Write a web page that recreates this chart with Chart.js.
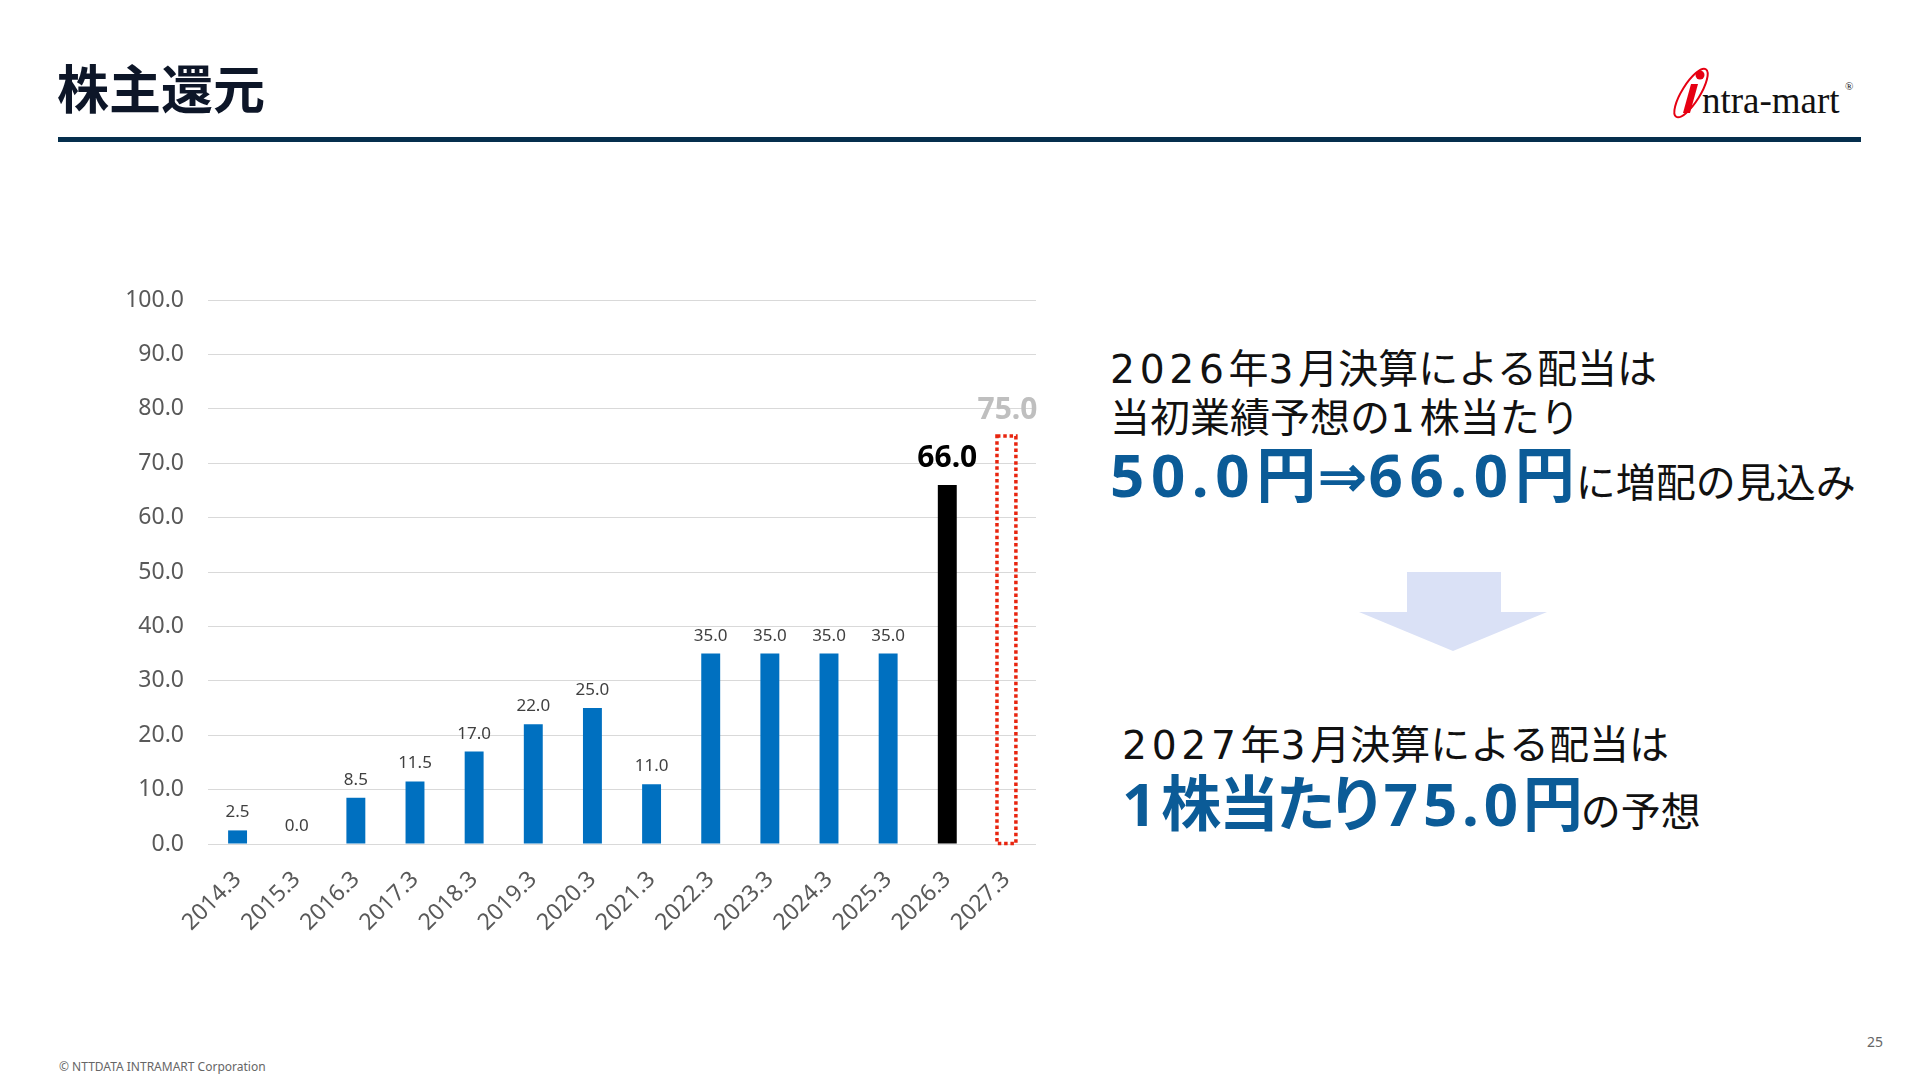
<!DOCTYPE html>
<html lang="ja">
<head>
<meta charset="utf-8">
<title>株主還元</title>
<script src="https://cdn.jsdelivr.net/npm/chart.js@4/dist/chart.umd.min.js"></script>
<style>
  html, body { margin: 0; padding: 0; background: #fff; }
  body { width: 1920px; height: 1080px; position: relative; overflow: hidden; font-family: "Noto Sans CJK JP", "Noto Sans", sans-serif; }
  .title { position: absolute; left: 57px; top: 61px; font-size: 52px; font-weight: 700; line-height: 1; color: #0d1628; }
  .rule { position: absolute; left: 58px; top: 137px; width: 1803px; height: 5px; background: #052f4d; }
  #chartBox { position: absolute; left: 100px; top: 260px; width: 960px; height: 700px; }
  .msg { position: absolute; line-height: 1; color: #111; font-size: 40px; white-space: nowrap; }
  .msg .n { font-family: "DejaVu Sans", "Noto Sans", sans-serif; font-size: 0.98em; letter-spacing: 0.12em; }
  .big { font-size: 60px; font-weight: 700; color: #0b5b97; font-feature-settings: "palt"; }
  .big .n { font-family: "Noto Sans", sans-serif; letter-spacing: 0.08em; font-size: 1em; }
  .big .ar { font-family: "DejaVu Sans", sans-serif; }
  .wide { letter-spacing: 1px; }
  .wide .n { letter-spacing: 0.11em; }
  .tight { letter-spacing: -2px; }
  .foot { position: absolute; left: 59px; top: 1058px; font-family: "Noto Sans", sans-serif; font-size: 12px; color: #666; }
  .page { position: absolute; left: 1867px; top: 1032px; font-family: "Noto Sans", sans-serif; font-size: 14px; color: #666; }
</style>
</head>
<body>
<div class="title">株主還元</div>
<div class="rule"></div>

<svg style="position:absolute;left:1660px;top:60px" width="200" height="70">
  <ellipse cx="31" cy="33" rx="28" ry="9" transform="rotate(-58 31 33)" fill="none" stroke="#e60012" stroke-width="2"/>
  <circle cx="40" cy="15" r="4.5" fill="#e60012"/>
  <path d="M31 24 L38 24 L30 53 L23 53 Z" fill="#e60012"/>
  <text x="42" y="53" font-family="Liberation Serif" font-size="37" fill="#111">ntra-mart</text>
  <text x="185" y="30" font-family="Liberation Serif" font-size="11" fill="#111">®</text>
</svg>

<div id="chartBox"><canvas id="chart"></canvas></div>

<div class="msg" style="left:1110px;top:346px"><span class="n">2026</span>年<span class="n">3</span>月決算による配当は</div>
<div class="msg" style="left:1110px;top:395px">当初業績予想の<span class="n">1</span>株当たり</div>
<div class="msg" style="left:1110px;top:441px"><span class="big wide"><span class="n">50.0</span>円<span class="ar">⇒</span><span class="n">66.0</span>円</span>に増配の見込み</div>

<svg style="position:absolute;left:1355px;top:568px" width="200" height="90">
  <polygon points="52,4 146,4 146,44 192,44 98,83 4,44 52,44" fill="#dae1f6"/>
</svg>

<div class="msg" style="left:1122px;top:722px"><span class="n">2027</span>年<span class="n">3</span>月決算による配当は</div>
<div class="msg" style="left:1122px;top:770px"><span class="big tight"><span class="n">1</span>株当たり<span class="n" style="margin-left:6px">75.0</span>円</span>の予想</div>

<div class="foot">© NTTDATA INTRAMART Corporation</div>
<div class="page">25</div>

<script>
// fiscal years (March year-end)
const years = ['2014.3', '2015.3', '2016.3', '2017.3', '2018.3', '2019.3', '2020.3',
               '2021.3', '2022.3', '2023.3', '2024.3', '2025.3', '2026.3', '2027.3'];
// dividend per share (yen)
const dividends = [2.5, 0.0, 8.5, 11.5, 17.0, 22.0, 25.0, 11.0, 35.0, 35.0, 35.0, 35.0, 66.0, 75.0];
const yTicks = [0, 10, 20, 30, 40, 50, 60, 70, 80, 90, 100];

const highlightYear = '2026.3';
const forecastYear = '2027.3';
const hiIdx = years.indexOf(highlightYear);
const fcIdx = years.indexOf(forecastYear);

const barColor = i => i === hiIdx ? '#000000' : (i === fcIdx ? 'rgba(0,0,0,0)' : '#0070c0');

// dotted outline for the forecast bar
const forecastOutline = {
    id: 'forecastOutline',
    afterDatasetsDraw(chart) {
        const el = chart.getDatasetMeta(0).data[fcIdx];
        if (!el) return;
        const ctx = chart.ctx;
        const w = el.width;
        ctx.save();
        ctx.strokeStyle = '#e8250f';
        ctx.lineWidth = 3.5;
        ctx.setLineDash([3.5, 2.8]);
        ctx.strokeRect(el.x - w / 2, el.y, w, el.base - el.y);
        ctx.restore();
    }
};

// value labels above bars
const valueLabels = {
    id: 'valueLabels',
    afterDatasetsDraw(chart) {
        const ctx = chart.ctx;
        const meta = chart.getDatasetMeta(0);
        ctx.save();
        ctx.textAlign = 'center';
        ctx.textBaseline = 'alphabetic';
        meta.data.forEach((el, i) => {
            const txt = dividends[i].toFixed(1);
            if (i === hiIdx) {
                ctx.font = '700 30px "Noto Sans"';
                ctx.fillStyle = '#000';
                ctx.fillText(txt, el.x, el.y - 18);
            } else if (i === fcIdx) {
                ctx.font = '700 30px "Noto Sans"';
                ctx.fillStyle = '#bfbfbf';
                ctx.fillText(txt, el.x + 1, el.y - 17);
            } else {
                ctx.font = '17px "Noto Sans"';
                ctx.fillStyle = '#404040';
                ctx.fillText(txt, el.x, el.y - 13);
            }
        });
        ctx.restore();
    }
};

new Chart(document.getElementById('chart'), {
    type: 'bar',
    data: {
        labels: years,
        datasets: [{
            data: dividends,
            backgroundColor: years.map((_, i) => barColor(i)),
            borderWidth: 0,
            barPercentage: 0.32,
            categoryPercentage: 1.0
        }]
    },
    options: {
        responsive: true,
        maintainAspectRatio: false,
        animation: false,
        layout: { padding: { left: 0, right: 24, top: 40, bottom: 0 } },
        plugins: {
            legend: { display: false },
            tooltip: { enabled: false }
        },
        scales: {
            x: {
                grid: { display: false, drawTicks: false },
                border: { display: false },
                ticks: {
                    autoSkip: false,
                    maxRotation: 45,
                    minRotation: 45,
                    padding: 22,
                    color: '#595959',
                    font: { family: 'Noto Sans', size: 23 }
                },
                afterFit(scale) { scale.height = 116; }
            },
            y: {
                min: 0,
                max: 100,
                afterBuildTicks(scale) { scale.ticks = yTicks.map(v => ({ value: v })); },
                grid: { color: '#d9d9d9', lineWidth: 1, drawTicks: false },
                border: { display: false },
                ticks: {
                    padding: 24,
                    color: '#595959',
                    font: { family: 'Noto Sans', size: 23 },
                    callback: v => Number(v).toFixed(1)
                },
                afterFit(scale) { scale.width = 108; }
            }
        }
    },
    plugins: [forecastOutline, valueLabels]
});
</script>
</body>
</html>
